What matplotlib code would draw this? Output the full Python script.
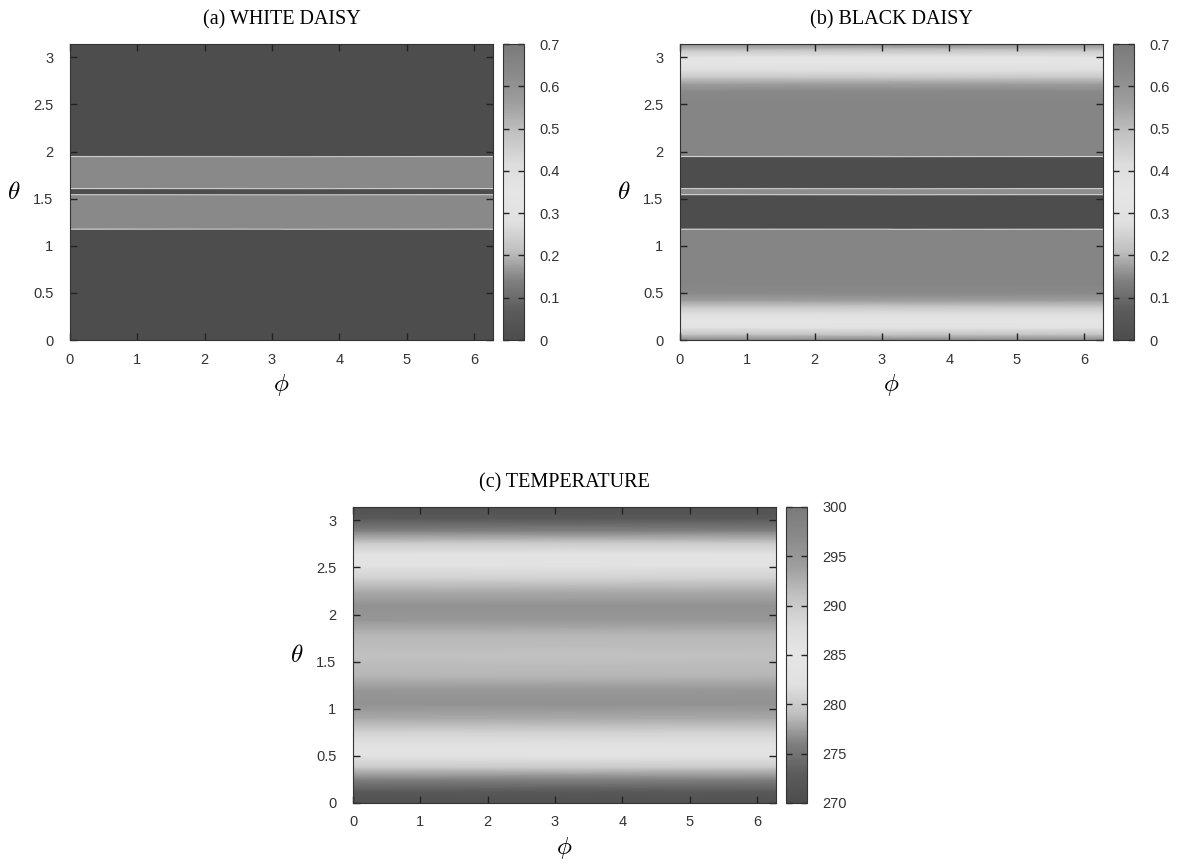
import numpy as np
import matplotlib
matplotlib.use("Agg")
import matplotlib.pyplot as plt
from matplotlib.colors import LinearSegmentedColormap

# latitude profiles (same at every longitude)
phi_nodes = [0.0, 2 * np.pi]

white_theta = [0.0, 1.17, 1.18, 1.19, 1.535, 1.545, 1.555, 1.60, 1.61, 1.62,
               1.94, 1.95, 1.96, np.pi]
white_vals = [0.0, 0.0, 0.38, 0.63, 0.63, 0.38, 0.0, 0.0, 0.38, 0.63,
              0.63, 0.38, 0.0, 0.0]

black_theta = [0.0, 0.06, 0.13, 0.2, 0.28, 0.35, 0.42, 0.5, 0.6,
               1.17, 1.18, 1.19, 1.535, 1.545, 1.555, 1.60, 1.61, 1.62,
               1.94, 1.95, 1.96,
               2.54, 2.64, 2.72, 2.79, 2.86, 2.94, 3.01, 3.08, np.pi]
black_vals = [0.15, 0.22, 0.3, 0.35, 0.4, 0.47, 0.56, 0.63, 0.65,
              0.65, 0.38, 0.0, 0.0, 0.38, 0.62, 0.62, 0.38, 0.0,
              0.0, 0.38, 0.65,
              0.65, 0.63, 0.56, 0.47, 0.4, 0.35, 0.3, 0.22, 0.15]

temp_theta = [0.0, 0.12, 0.25, 0.38, 0.5, 0.62, 0.75, 0.9, 1.05, 1.2, 1.35, 1.57,
              1.79, 1.94, 2.09, 2.24, 2.39, 2.52, 2.64, 2.76, 2.89, 3.02, np.pi]
temp_vals = [271, 272.5, 276, 280, 283.5, 286, 289, 293, 296, 295, 292, 291,
             292, 295, 296, 293, 289, 286, 283.5, 280, 276, 272.5, 271]

# gnuplot-like grey palette: dark -> white -> grey
stops = [(0.0, 0.30), (0.1, 0.36), (0.2, 0.50), (0.3, 0.75), (0.4, 0.88),
         (0.5, 0.90), (0.6, 0.86), (0.7, 0.76), (0.8, 0.62), (0.9, 0.54), (1.0, 0.48)]
cmap = LinearSegmentedColormap.from_list("greypal", [(f, (g, g, g)) for f, g in stops])

plt.rcParams['font.family'] = ['Liberation Sans', 'DejaVu Sans']
plt.rcParams['mathtext.fontset'] = 'cm'

fig = plt.figure(figsize=(11.86, 8.67), dpi=100)
W, H = 1186, 867


def panel(left, top, theta, vals, vmin, vmax, cticks, clabels, title):
    ax = fig.add_axes([left / W, 1 - (top + 296) / H, 423 / W, 296 / H])
    cax = fig.add_axes([(left + 433) / W, 1 - (top + 296) / H, 21 / W, 296 / H])
    z = np.column_stack([vals, vals])
    P, T = np.meshgrid(phi_nodes, theta)
    m = ax.pcolormesh(P, T, z, cmap=cmap, vmin=vmin, vmax=vmax, shading='gouraud')
    ax.set_xlim(0, 2 * np.pi)
    ax.set_ylim(0, np.pi)
    ax.set_xticks(range(7))
    ax.set_yticks([0, 0.5, 1, 1.5, 2, 2.5, 3])
    ax.set_yticklabels(['0', '0.5', '1', '1.5', '2', '2.5', '3'])
    ax.tick_params(direction='in', top=True, right=True, length=5, width=1,
                   labelsize=10.5, labelcolor='#333333', color='#222222')
    ax.tick_params(axis='x', pad=9)
    ax.tick_params(axis='y', pad=12)
    for s in ax.spines.values():
        s.set_color('#333333')
    ax.set_title(title, family=['Liberation Serif', 'DejaVu Serif'], fontsize=14.5, pad=14)
    ax.set_xlabel(r'$\phi$', fontsize=18, labelpad=4)
    ax.set_ylabel(r'$\theta$', fontsize=18, rotation=0, labelpad=14, va='center')
    cb = fig.colorbar(m, cax=cax, ticks=cticks)
    cb.ax.set_yticklabels(clabels)
    cb.outline.set_edgecolor('#333333')
    cax.tick_params(direction='in', left=True, right=True, length=4, width=1,
                    labelsize=10.5, labelcolor='#333333', color='#222222', pad=11)
    return ax


daisy_ticks = [0, 0.1, 0.2, 0.3, 0.4, 0.5, 0.6, 0.7]
daisy_labels = ['0', '0.1', '0.2', '0.3', '0.4', '0.5', '0.6', '0.7']
temp_ticks = [270, 275, 280, 285, 290, 295, 300]

panel(70, 44, white_theta, white_vals, 0, 0.7, daisy_ticks, daisy_labels, '(a) WHITE DAISY')
panel(680, 44, black_theta, black_vals, 0, 0.7, daisy_ticks, daisy_labels, '(b) BLACK DAISY')
panel(353, 507, temp_theta, temp_vals, 270, 300, temp_ticks,
      [str(t) for t in temp_ticks], '(c) TEMPERATURE')

fig.savefig('out.png', dpi=100)
